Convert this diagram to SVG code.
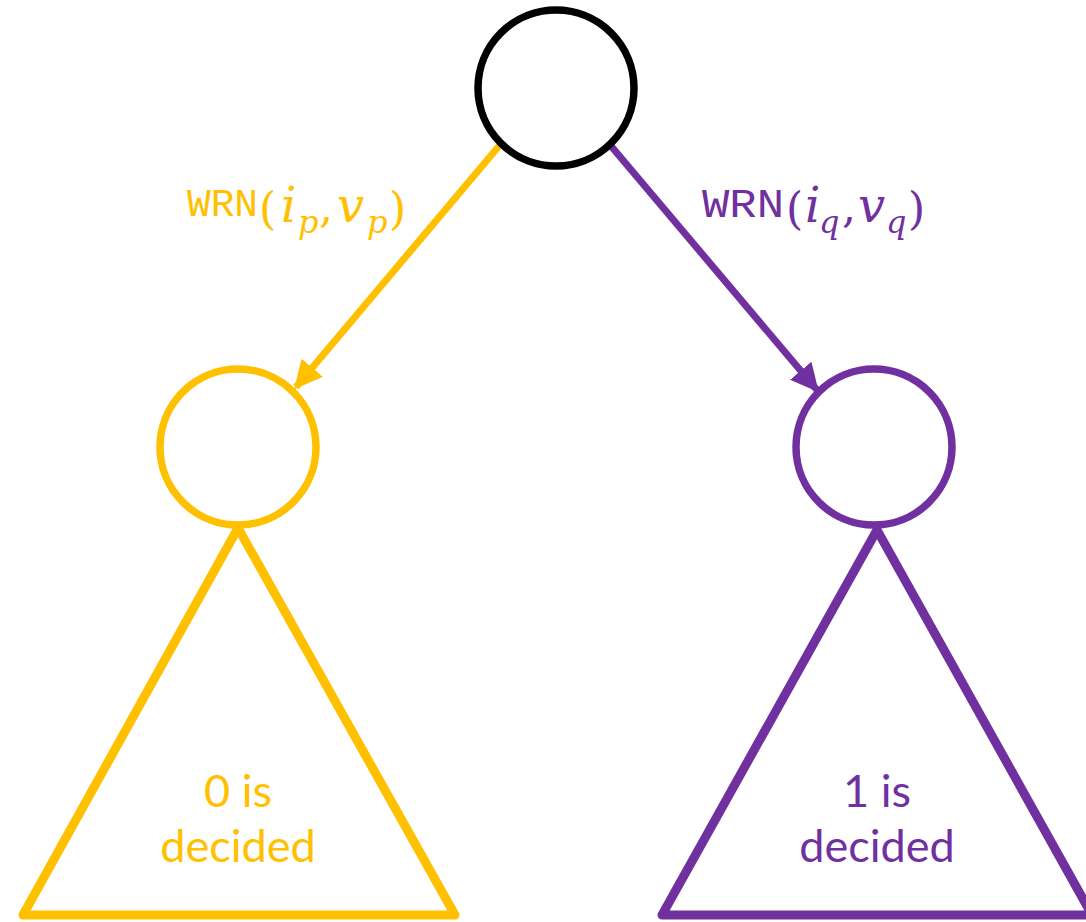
<svg xmlns="http://www.w3.org/2000/svg" width="1086" height="922" viewBox="0 0 1086 922">
<style>
.node{fill:#fff;stroke-width:7.5}
.tri{fill:#fff;stroke-width:9;stroke-linejoin:round}
.y{stroke:#FFC000}
.p{stroke:#7030A0}
.mono{font-family:"Liberation Mono",monospace}
.math{font-family:"DejaVu Serif","Liberation Serif",serif;font-style:italic}
.par{font-family:"DejaVu Serif","Liberation Serif",serif}
.lbl{font-family:"Lato","Open Sans",sans-serif;font-size:45px;text-anchor:middle}
</style>
<defs>
<marker id="ay" viewBox="0 0 10 10" refX="9" refY="5" markerWidth="4" markerHeight="4" orient="auto" markerUnits="strokeWidth"><path d="M0,0 L10,5 L0,10 z" fill="#FFC000"/></marker>
<marker id="ap" viewBox="0 0 10 10" refX="9" refY="5" markerWidth="4" markerHeight="4" orient="auto" markerUnits="strokeWidth"><path d="M0,0 L10,5 L0,10 z" fill="#7030A0"/></marker>
</defs>
<g id="connectors">
<line x1="499" y1="146" x2="296" y2="387" stroke="#FFC000" stroke-width="7" marker-end="url(#ay)"/>
<line x1="611" y1="146" x2="817" y2="390" stroke="#7030A0" stroke-width="7" marker-end="url(#ap)"/>
</g>
<g id="tri-left"><path class="tri y" d="M238,528 L455,915 L23,915 Z"/>
<text class="lbl" x="238" y="807" fill="#FFC000">0 is</text>
<text class="lbl" x="238" y="862" fill="#FFC000">decided</text></g>
<g id="tri-right"><path class="tri p" d="M877,530 L1092,915 L662,915 Z"/>
<text class="lbl" x="877" y="807" fill="#7030A0">1 is</text>
<text class="lbl" x="877" y="862" fill="#7030A0">decided</text></g>
<g id="root"><circle class="node" cx="556" cy="88" r="78" stroke="#000"/></g>
<g id="left"><circle class="node y" cx="238" cy="447" r="78"/></g>
<g id="right"><circle class="node p" cx="874" cy="447" r="78"/></g>
<g id="label-left" fill="#FFC000">
<text class="mono" x="187" y="216" font-size="38" textLength="71" lengthAdjust="spacingAndGlyphs">WRN</text>
<text class="par" x="259" y="224" font-size="44">(</text>
<text class="math" x="281" y="222" font-size="48">i</text>
<text class="math" x="298" y="233" font-size="32">p</text>
<text class="par" x="319" y="222" font-size="44">,</text>
<text class="math" x="337" y="222" font-size="48">v</text>
<text class="math" x="367" y="233" font-size="32">p</text>
<text class="par" x="389" y="224" font-size="44">)</text>
</g>
<g id="label-right" fill="#7030A0">
<text class="mono" x="702" y="217" font-size="40" textLength="82" lengthAdjust="spacingAndGlyphs">WRN</text>
<text class="par" x="786" y="224" font-size="44">(</text>
<text class="math" x="805" y="222" font-size="48">i</text>
<text class="math" x="819" y="233" font-size="32">q</text>
<text class="par" x="842" y="222" font-size="44">,</text>
<text class="math" x="858" y="222" font-size="48">v</text>
<text class="math" x="886" y="233" font-size="32">q</text>
<text class="par" x="908" y="224" font-size="44">)</text>
</g>
</svg>
